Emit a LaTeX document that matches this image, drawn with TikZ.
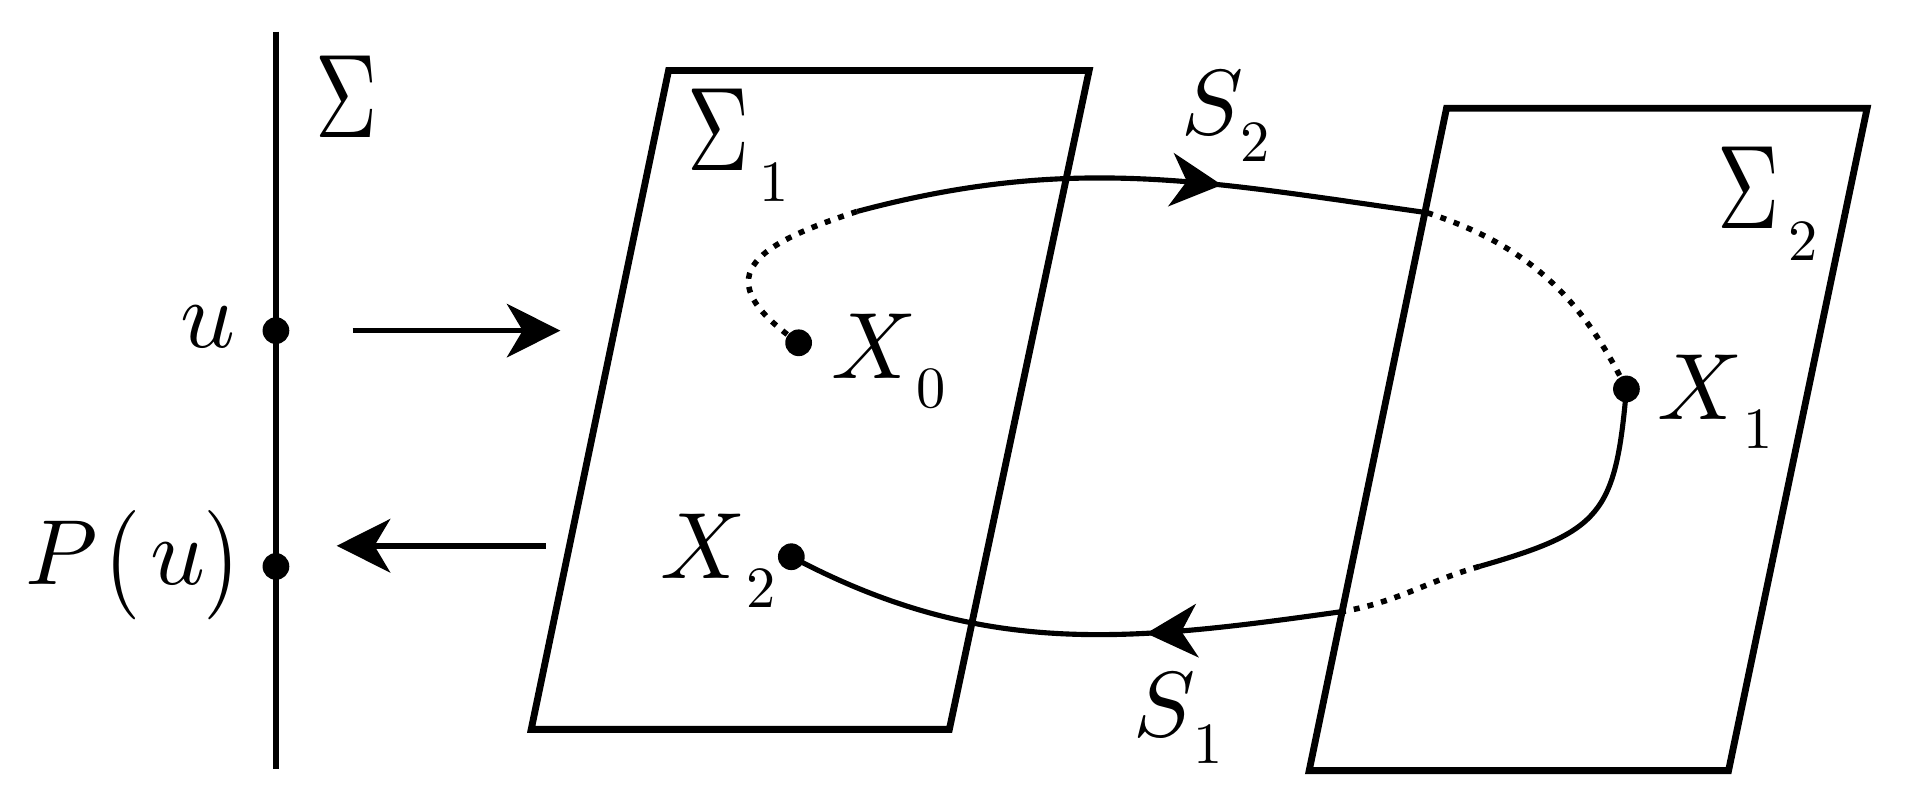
\documentclass[tikz,border=0pt]{standalone}
\usepackage{graphicx}
\usetikzlibrary{arrows.meta, decorations.markings}

\newcommand{\sgm}{\resizebox{0.51cm}{0.67cm}{$\Sigma$}}
\newcommand{\dig}[1]{\resizebox{!}{0.32cm}{#1}}
\newcommand{\tallpar}[1]{\raisebox{-0.065cm}{\resizebox*{0.3cm}{0.9cm}{#1}}}
\newcommand{\labX}[1]{\resizebox{!}{0.53cm}{$X$}\raisebox{-0.24cm}{\dig{#1}}}
\newcommand{\labS}[1]{\resizebox{!}{0.52cm}{$S$}\kern-0.02cm\raisebox{-0.22cm}{\dig{#1}}}
\newcommand{\labSig}[1]{\sgm\kern0.08cm\raisebox{-0.26cm}{\dig{#1}}}

\begin{document}
\begin{tikzpicture}[
  lab/.style={inner sep=0pt, anchor=base west},
  plane/.style={line width=1.6pt, line join=miter},
  orbit/.style={line width=1.2pt},
  dotline/.style={line width=1.3pt, dash pattern=on 1.4pt off 1.9pt},
  spot/.style={circle, fill, inner sep=0pt, minimum size=0.22cm},
  arr/.style={line width=1.3pt, -{Stealth[length=4.4mm, width=4.4mm, inset=1.3mm]}},
  flowarrow/.style={postaction={decorate, decoration={markings,
    mark=at position #1 with {\arrow{Stealth[length=4.2mm, width=4.4mm, inset=1.3mm]}}}}}
]
\useasboundingbox (0,0) rectangle (15.68,-6.62);

% the section Sigma
\coordinate (sigtop) at (2.27,-0.26);
\coordinate (sigbot) at (2.27,-6.33);
\draw[line width=1.6pt] (sigtop) -- (sigbot);
\node[spot] (u) at (2.27,-2.72) {};
\node[spot] (pu) at (2.27,-4.66) {};
\node[lab] (sig) at (2.59,-1.13) {\sgm};
\node[lab] (ulab) at (1.48,-2.86) {\resizebox{!}{0.34cm}{$u$}};
\node[lab] (pulab) at (0.20,-4.81) {\resizebox{!}{0.52cm}{$P$}\kern0.06cm\tallpar{(}\kern0.08cm\resizebox{!}{0.34cm}{$u$}\kern-0.02cm\tallpar{)}};

% map in and out
\coordinate (go1) at (2.90,-2.72);
\coordinate (go2) at (4.61,-2.72);
\coordinate (back1) at (4.49,-4.49);
\coordinate (back2) at (2.77,-4.49);
\draw[arr] (go1) -- (go2);
\draw[arr] (back1) -- (back2);

% the two planes
\coordinate (p1a) at (5.50,-0.58);
\coordinate (p1b) at (8.96,-0.58);
\coordinate (p1c) at (7.81,-6.00);
\coordinate (p1d) at (4.37,-6.00);
\draw[plane] (p1a) -- (p1b) -- (p1c) -- (p1d) -- cycle;
\coordinate (p2a) at (11.90,-0.89);
\coordinate (p2b) at (15.36,-0.89);
\coordinate (p2c) at (14.22,-6.34);
\coordinate (p2d) at (10.77,-6.34);
\draw[plane] (p2a) -- (p2b) -- (p2c) -- (p2d) -- cycle;
\node[lab] (sig1) at (5.65,-1.40) {\labSig{1}};
\node[lab] (sig2) at (14.12,-1.88) {\labSig{2}};

% the orbit
\node[spot] (x0) at (6.57,-2.82) {};
\node[spot] (x1) at (13.38,-3.20) {};
\node[spot] (x2) at (6.51,-4.58) {};
\coordinate (j1) at (7.05,-1.74);
\coordinate (j2) at (11.74,-1.75);
\coordinate (j3) at (12.17,-4.66);
\coordinate (j4) at (11.05,-5.03);
\draw[dotline] (x0.center) to[out=145, in=198, looseness=2] (j1);
\draw[orbit, flowarrow=0.64] (j1) to[out=15, in=172] (j2);
\draw[dotline] (j2) to[out=-18, in=116] (x1.center);
\draw[orbit] (x1.center) to[out=-95, in=16, looseness=1.4] (j3);
\draw[dotline] (j3) to[out=196, in=10] (j4);
\draw[orbit, flowarrow=0.35] (j4) to[out=188, in=-28] (x2.center);

\node[lab] (x0lab) at (6.83,-3.11) {\labX{0}};
\node[lab] (x1lab) at (13.63,-3.45) {\labX{1}};
\node[lab] (x2lab) at (5.43,-4.76) {\labX{2}};
\node[lab] (s2lab) at (9.71,-1.11) {\labS{2}};
\node[lab] (s1lab) at (9.32,-6.06) {\labS{1}};
\end{tikzpicture}
\end{document}
